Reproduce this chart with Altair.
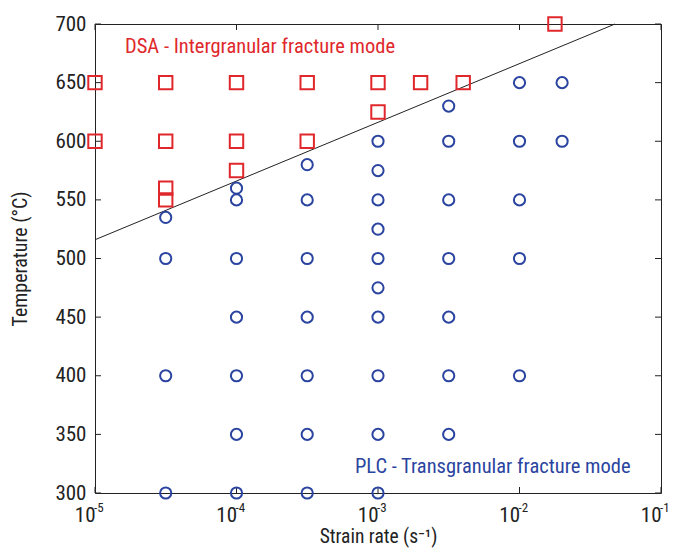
import altair as alt
import pandas as pd

# ---- data ----
dsa_rate = [1e-5, 1e-5, 3.16e-5, 3.16e-5, 3.16e-5, 3.16e-5, 1e-4, 1e-4, 1e-4,
            3.16e-4, 3.16e-4, 1e-3, 1e-3, 2e-3, 4e-3, 1.78e-2]
dsa_temp = [650, 600, 650, 600, 560, 550, 650, 600, 575,
            650, 600, 650, 625, 650, 650, 700]

plc_rate = [3.16e-5, 3.16e-5, 3.16e-5, 3.16e-5,
            1e-4, 1e-4, 1e-4, 1e-4, 1e-4, 1e-4, 1e-4,
            3.16e-4, 3.16e-4, 3.16e-4, 3.16e-4, 3.16e-4, 3.16e-4, 3.16e-4,
            1e-3, 1e-3, 1e-3, 1e-3, 1e-3, 1e-3, 1e-3, 1e-3, 1e-3, 1e-3,
            3.16e-3, 3.16e-3, 3.16e-3, 3.16e-3, 3.16e-3, 3.16e-3, 3.16e-3,
            1e-2, 1e-2, 1e-2, 1e-2, 1e-2,
            2e-2, 2e-2]
plc_temp = [535, 500, 400, 300,
            560, 550, 500, 450, 400, 350, 300,
            580, 550, 500, 450, 400, 350, 300,
            600, 575, 550, 525, 500, 475, 450, 400, 350, 300,
            630, 600, 550, 500, 450, 400, 350,
            650, 600, 550, 500, 400,
            650, 600]

line_rate = [1e-5, 4.73e-2]
line_temp = [516, 700]

x_ticks = [1e-5, 1e-4, 1e-3, 1e-2, 1e-1]
x_tick_exponents = ["-5", "-4", "-3", "-2", "-1"]
y_ticks = [300, 350, 400, 450, 500, 550, 600, 650, 700]

ann_text = ["DSA - Intergranular fracture mode", "PLC - Transgranular fracture mode"]
ann_rate = [1.63e-5, 6.87e-4]
ann_temp = [680, 322]
ann_group = ["DSA", "PLC"]

RED = "#e0282c"
BLUE = "#2a44a0"
INK = "#222222"
FONT = "Liberation Sans Narrow, Roboto Condensed, Arial Narrow, Liberation Sans, sans-serif"
W, H = 566, 469
TICK = 6

dsa = pd.DataFrame({"rate": dsa_rate, "temp": dsa_temp})
plc = pd.DataFrame({"rate": plc_rate, "temp": plc_temp})
line = pd.DataFrame({"rate": line_rate, "temp": line_temp})
ann = pd.DataFrame({"rate": ann_rate, "temp": ann_temp, "text": ann_text, "g": ann_group})
xt = pd.DataFrame({"rate": x_ticks, "exp": x_tick_exponents})
yt = pd.DataFrame({"temp": y_ticks})

xscale = alt.Scale(type="log", domain=[1e-5, 1e-1], nice=False)
yscale = alt.Scale(domain=[300, 700], nice=False, zero=False)

common_axis = dict(grid=False, domain=False, ticks=False,
                   labelFont=FONT, labelFontSize=21, labelColor=INK,
                   titleFont=FONT, titleColor=INK, titleFontWeight="normal")

x_bottom = alt.Axis(orient="bottom", values=x_ticks, labelExpr="'10'", labelAlign="right",
                    title="Strain rate (s⁻¹)", labelPadding=11, titlePadding=2, titleFontSize=19.5,
                    **common_axis)
y_left = alt.Axis(orient="left", values=y_ticks, title="Temperature (°C)", labelPadding=9,
                  titlePadding=24, titleFontSize=20, **common_axis)

blue_layer = alt.Chart(plc).mark_point(shape="circle", filled=False, color=BLUE, strokeWidth=2, size=125, opacity=1).encode(
    x=alt.X("rate:Q", scale=xscale, axis=x_bottom),
    y=alt.Y("temp:Q", scale=yscale, axis=y_left),
)

red_layer = alt.Chart(dsa).mark_point(shape="square", filled=False, color=RED, strokeWidth=2, size=180, opacity=1).encode(
    x=alt.X("rate:Q", scale=xscale),
    y=alt.Y("temp:Q", scale=yscale),
)

line_layer = alt.Chart(line).mark_line(color=INK, strokeWidth=1).encode(
    x=alt.X("rate:Q", scale=xscale),
    y=alt.Y("temp:Q", scale=yscale),
)

text_layer = alt.Chart(ann).mark_text(align="left", baseline="middle", font=FONT, fontSize=20.5).encode(
    x=alt.X("rate:Q", scale=xscale),
    y=alt.Y("temp:Q", scale=yscale),
    text="text:N",
    color=alt.Color("g:N", scale=alt.Scale(domain=["DSA", "PLC"], range=[RED, BLUE]), legend=None),
)

# inward tick marks on all four sides
xt_bottom = alt.Chart(xt).mark_rule(color=INK, strokeWidth=1).encode(
    x=alt.X("rate:Q", scale=xscale), y=alt.value(H), y2=alt.value(H - TICK))
xt_top = alt.Chart(xt).mark_rule(color=INK, strokeWidth=1).encode(
    x=alt.X("rate:Q", scale=xscale), y=alt.value(0), y2=alt.value(TICK))
yt_left = alt.Chart(yt).mark_rule(color=INK, strokeWidth=1).encode(
    y=alt.Y("temp:Q", scale=yscale), x=alt.value(0), x2=alt.value(TICK))
yt_right = alt.Chart(yt).mark_rule(color=INK, strokeWidth=1).encode(
    y=alt.Y("temp:Q", scale=yscale), x=alt.value(W), x2=alt.value(W - TICK))

# superscript exponents for x tick labels
exp_layer = alt.Chart(xt).mark_text(align="left", baseline="top", font=FONT, fontSize=13, color=INK, dx=-1).encode(
    x=alt.X("rate:Q", scale=xscale), y=alt.value(H + 9), text="exp:N")

chart = alt.layer(
    xt_bottom, xt_top, yt_left, yt_right,
    line_layer, blue_layer, red_layer, text_layer, exp_layer
).properties(
    width=W, height=H,
    autosize=alt.AutoSizeParams(type="none"),
    padding={"left": 87, "top": 16, "right": 8, "bottom": 55},
    background="white",
).configure_view(stroke=INK, strokeWidth=1)

chart.save("out.html", embed_options={"renderer": "svg", "actions": False})
